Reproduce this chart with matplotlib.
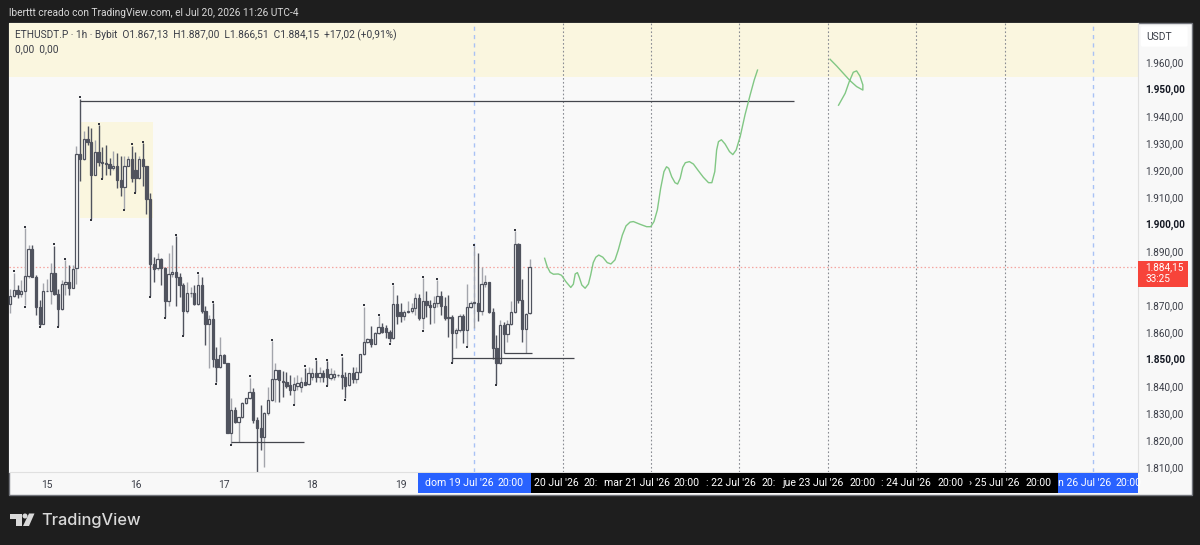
#!/usr/bin/env python3
import numpy as np
import matplotlib
matplotlib.use("Agg")
import matplotlib.pyplot as plt
from matplotlib.patches import Rectangle, Polygon, Circle, FancyBboxPatch

# ETHUSDT.P 1h candles, first bar is 14 Jul 14:00 (hours counted from 15 Jul 00:00)
first_hour = -10
opens = [
    1870.4, 1873.5, 1875.6, 1874.1, 1875.0, 1880.8, 1890.6, 1880.5, 1869.2, 1863.0,
    1875.1, 1875.3, 1881.8, 1874.1, 1868.4, 1877.8, 1878.7, 1876.4, 1883.6, 1926.0,
    1924.1, 1931.5, 1930.2, 1918.2, 1926.8, 1922.9, 1922.5, 1922.3, 1920.7, 1921.6,
    1916.3, 1913.6, 1921.5, 1924.1, 1920.0, 1917.0, 1924.1, 1921.5, 1909.2, 1885.1,
    1883.6, 1887.0, 1883.6, 1871.3, 1881.4, 1882.1, 1880.5, 1877.4, 1867.8, 1874.3,
    1874.6, 1870.4, 1877.4, 1867.6, 1863.0, 1864.7, 1849.9, 1846.9, 1851.4, 1848.7,
    1822.7, 1831.0, 1826.8, 1828.5, 1833.7, 1835.5, 1837.7, 1827.4, 1824.3, 1821.0,
    1829.9, 1834.7, 1842.6, 1845.8, 1842.0, 1841.6, 1840.4, 1838.5, 1840.0, 1839.5,
    1841.4, 1840.6, 1843.5, 1844.7, 1843.5, 1844.7, 1846.3, 1843.1, 1843.5, 1844.0,
    1844.1, 1843.5, 1840.4, 1845.0, 1842.6, 1845.1, 1851.7, 1856.2, 1857.3, 1855.6,
    1859.8, 1862.0, 1861.6, 1859.9, 1857.7, 1870.4, 1867.3, 1866.1, 1867.3, 1867.9,
    1869.0, 1872.5, 1865.1, 1871.5, 1870.0, 1869.2, 1870.6, 1873.5, 1869.8, 1865.7,
    1865.7, 1859.8, 1860.8, 1866.1, 1860.8, 1869.4, 1870.9, 1870.9, 1867.9, 1877.8,
    1878.7, 1867.5, 1854.0, 1848.4, 1862.6, 1859.3, 1862.9, 1867.5, 1892.6, 1871.9,
    1861.1, 1867.13,
]
highs = [
    1875.8, 1882.0, 1877.4, 1879.3, 1898.5, 1892.2, 1892.2, 1881.1, 1871.9, 1878.0,
    1879.5, 1885.5, 1892.0, 1875.8, 1879.3, 1886.7, 1884.8, 1884.8, 1928.9, 1946.4,
    1934.5, 1936.3, 1935.5, 1931.1, 1936.7, 1928.7, 1929.3, 1924.4, 1927.2, 1926.2,
    1925.2, 1925.0, 1925.3, 1929.0, 1926.8, 1925.0, 1929.9, 1921.5, 1911.6, 1887.9,
    1889.2, 1887.3, 1884.2, 1889.2, 1892.2, 1895.6, 1881.8, 1878.0, 1878.7, 1876.8,
    1877.4, 1881.5, 1880.5, 1869.7, 1866.3, 1870.6, 1854.6, 1858.3, 1851.8, 1848.7,
    1835.5, 1832.4, 1828.7, 1834.2, 1835.5, 1843.1, 1839.2, 1828.7, 1833.0, 1830.5,
    1839.8, 1856.7, 1848.7, 1846.0, 1845.7, 1845.3, 1844.1, 1843.5, 1844.1, 1843.5,
    1846.8, 1847.2, 1846.6, 1849.6, 1847.2, 1845.9, 1849.3, 1846.6, 1845.9, 1844.5,
    1850.9, 1845.3, 1845.0, 1847.2, 1847.2, 1851.7, 1869.4, 1857.7, 1862.2, 1860.1,
    1865.9, 1863.2, 1862.6, 1860.8, 1877.4, 1873.7, 1870.6, 1868.2, 1871.3, 1870.6,
    1874.6, 1874.1, 1879.9, 1875.0, 1871.9, 1873.4, 1879.3, 1875.0, 1872.9, 1873.7,
    1866.3, 1861.4, 1866.6, 1866.6, 1877.7, 1871.3, 1891.9, 1889.2, 1884.2, 1881.1,
    1878.7, 1868.8, 1858.9, 1864.5, 1863.8, 1864.5, 1871.3, 1897.4, 1892.9, 1879.5,
    1866.9, 1887.0,
]
lows = [
    1866.9, 1873.1, 1872.5, 1873.1, 1869.9, 1879.9, 1880.3, 1866.2, 1862.2, 1863.0,
    1875.0, 1870.4, 1873.7, 1862.2, 1868.2, 1873.7, 1873.7, 1876.2, 1877.8, 1916.0,
    1923.7, 1929.3, 1901.9, 1918.2, 1921.6, 1917.0, 1918.2, 1918.2, 1920.0, 1913.2,
    1910.2, 1905.7, 1921.3, 1915.7, 1911.8, 1916.7, 1913.9, 1903.6, 1873.4, 1878.7,
    1883.0, 1877.4, 1865.5, 1869.7, 1880.5, 1869.7, 1873.1, 1858.9, 1866.9, 1873.1,
    1870.0, 1870.0, 1866.9, 1855.2, 1846.6, 1846.9, 1841.3, 1846.6, 1848.4, 1822.5,
    1818.5, 1826.2, 1819.4, 1828.0, 1833.4, 1835.1, 1826.4, 1808.3, 1816.3, 1809.9,
    1829.3, 1834.6, 1834.2, 1834.2, 1836.1, 1839.2, 1836.7, 1833.4, 1838.5, 1837.9,
    1840.4, 1840.4, 1842.2, 1841.6, 1841.6, 1841.3, 1840.4, 1842.2, 1842.2, 1843.5,
    1838.8, 1835.4, 1840.1, 1841.0, 1841.0, 1845.0, 1851.5, 1855.8, 1854.6, 1855.6,
    1859.3, 1859.5, 1857.7, 1856.2, 1857.3, 1862.9, 1863.8, 1864.5, 1866.9, 1866.9,
    1866.3, 1864.5, 1861.0, 1865.7, 1863.0, 1863.2, 1869.4, 1866.3, 1864.5, 1858.3,
    1849.0, 1854.0, 1860.1, 1855.8, 1854.8, 1868.8, 1861.4, 1864.2, 1866.3, 1876.8,
    1867.2, 1849.9, 1840.8, 1848.2, 1852.4, 1856.4, 1862.6, 1867.2, 1870.6, 1856.4,
    1852.4, 1866.51,
]
closes = [
    1873.4, 1875.6, 1874.1, 1875.1, 1880.8, 1890.6, 1880.5, 1869.2, 1863.0, 1875.1,
    1875.3, 1881.8, 1874.1, 1868.4, 1877.8, 1878.7, 1876.4, 1883.4, 1926.0, 1924.1,
    1931.5, 1930.2, 1918.2, 1926.8, 1922.9, 1922.5, 1922.3, 1920.7, 1921.6, 1916.3,
    1913.6, 1921.5, 1924.1, 1917.2, 1917.2, 1924.1, 1921.5, 1909.2, 1885.1, 1883.4,
    1887.0, 1883.6, 1871.3, 1881.4, 1882.1, 1880.5, 1877.4, 1867.8, 1874.3, 1874.6,
    1870.4, 1877.4, 1867.6, 1863.0, 1864.7, 1849.9, 1846.9, 1851.4, 1848.7, 1822.7,
    1831.0, 1826.8, 1828.5, 1833.7, 1835.5, 1837.7, 1827.4, 1824.3, 1821.0, 1829.9,
    1834.7, 1842.6, 1845.8, 1842.2, 1841.6, 1840.1, 1838.5, 1840.8, 1841.0, 1841.4,
    1840.4, 1844.7, 1844.7, 1843.2, 1844.7, 1843.2, 1843.2, 1844.3, 1844.5, 1844.1,
    1843.5, 1840.1, 1844.7, 1842.5, 1845.1, 1851.7, 1856.2, 1857.3, 1855.6, 1859.8,
    1862.0, 1860.1, 1859.9, 1857.7, 1870.4, 1866.1, 1866.1, 1867.3, 1867.9, 1869.0,
    1872.5, 1865.1, 1871.5, 1870.0, 1869.2, 1870.6, 1873.5, 1869.8, 1865.3, 1865.3,
    1859.8, 1860.8, 1866.1, 1860.8, 1869.4, 1870.9, 1871.0, 1867.9, 1877.8, 1878.7,
    1867.5, 1854.0, 1848.4, 1862.6, 1859.3, 1862.9, 1867.5, 1892.6, 1871.9, 1861.1,
    1866.7, 1884.15,
]

# bars that carry the little swing dots
pivot_high_bars = [1, 4, 12, 15, 19, 24, 33, 36, 45, 51, 55, 65, 71, 80, 83, 86, 90,
                   96, 100, 104, 112, 116, 126, 137]
pivot_low_bars = [4, 8, 13, 22, 25, 31, 34, 38, 42, 47, 56, 60, 77, 86, 91, 103, 112,
                  120, 124, 132]

# hand drawn green path
path_hours = [135.1, 135.8, 136.6, 137.5, 138.8, 139.7, 140.9, 142.2, 142.9, 143.4,
              144.0, 144.5, 145.2, 146.1, 147.0, 147.6, 148.3, 149.0, 149.8, 150.9,
              152.1, 153.1, 154.2, 155.1, 156.2, 157.2, 158.3, 159.2, 161.0, 162.8,
              163.9, 164.8, 165.7, 166.6, 167.5, 168.2, 168.8, 169.6, 170.5, 171.2,
              171.9, 172.6, 173.3, 174.4, 175.5, 176.8, 178.2, 179.6, 180.5, 181.3,
              181.8, 182.3, 183.1, 184.1, 185.3, 186.2, 187.1, 188.2, 189.5, 190.9,
              192.0, 192.9]
path_prices = [1887.3, 1884.2, 1882.1, 1881.4, 1881.5, 1881.0, 1878.6, 1876.5, 1877.7, 1881.5,
               1882.0, 1880.3, 1877.4, 1876.2, 1877.8, 1881.1, 1885.7, 1887.7, 1888.5, 1887.7,
               1885.7, 1885.2, 1886.7, 1890.4, 1895.9, 1899.3, 1900.7, 1900.9, 1899.9, 1899.0,
               1899.0, 1900.9, 1905.2, 1913.2, 1919.4, 1921.2, 1920.6, 1917.5, 1915.3, 1914.8,
               1916.9, 1921.0, 1922.7, 1923.1, 1922.2, 1919.8, 1917.3, 1915.3, 1915.3, 1919.4,
               1927.4, 1930.5, 1931.2, 1929.6, 1926.8, 1925.7, 1927.4, 1932.4, 1940.4, 1947.8,
               1953.3, 1957.0]
loop_hours = [212.6, 214.4, 216.2, 218.0, 219.8, 221.5, 221.5, 220.7, 219.8, 218.9, 217.8,
              216.7, 214.9]
loop_prices = [1961.0, 1958.5, 1955.8, 1953.1, 1950.9, 1949.6, 1951.5, 1954.8, 1956.7, 1956.2,
               1952.7, 1948.4, 1944.0]

# horizontal drawings: price, from hour, to hour
level_prices = [1945.6, 1819.3, 1850.4, 1852.2]
level_starts = [9, 50, 110, 124]
level_ends = [202.8, 69.8, 143, 131.7]

session_hours = [116, 140, 164, 188, 212, 236, 260, 284]
session_blue = [116, 284]

last_price = 1884.15
day_ticks = [0, 24, 48, 72, 96]
day_labels = ["15", "16", "17", "18", "19"]
price_ticks = [1960, 1950, 1940, 1930, 1920, 1910, 1900, 1890, 1870, 1860, 1850, 1840,
               1830, 1820, 1810]
price_labels = ["1.960,00", "1.950,00", "1.940,00", "1.930,00", "1.920,00", "1.910,00",
                "1.900,00", "1.890,00", "1.870,00", "1.860,00", "1.850,00", "1.840,00",
                "1.830,00", "1.820,00", "1.810,00"]
bold_prices = [1950, 1900, 1850]

# labels of the future time strip, left edge in picture pixels
strip_texts = ["dom 19 Jul '26", "20:00", "20 Jul '26", "20:", "mar 21 Jul '26", "20:00",
               ": 22 Jul '26", "20:", "jue 23 Jul '26", "20:00", ": 24 Jul '26", "20:00",
               "› 25 Jul '26", "20:00", "n 26 Jul '26", "20:00"]
strip_left_px = [425, 498, 534, 584, 604, 674, 706, 762, 782, 849, 881, 937, 969, 1026,
                 1058, 1116]

DARK = "#1e1e1e"
CANDLE = "#50535e"
WICK_UP = "#a3a5ac"
YELLOW = "#faf6df"
TEXT = "#3a3d47"
FONT = "Roboto"

plt.rcParams["font.family"] = [FONT, "DejaVu Sans"]

W, H = 1200, 545
fig = plt.figure(figsize=(W / 100, H / 100), dpi=100, facecolor=DARK)

# page axes in pixels for the chrome around the chart
page = fig.add_axes([0, 0, 1, 1], zorder=0)
page.set_xlim(0, W)
page.set_ylim(H, 0)
page.axis("off")
page.add_patch(Rectangle((8.5, 22.5), 1183, 472, fc="#f8f8f8", ec="#73757c", lw=1))
page.text(9, 13, "lberttt creado con TradingView.com, el Jul 20, 2026 11:26 UTC-4",
          color="#d8d8d8", fontsize=7.25, va="center")

# TradingView mark
logo = "#d9d9d9"
page.add_patch(Polygon([(10, 513.5), (21.5, 513.5), (21.5, 526), (16, 526), (16, 518.5), (10, 518.5)],
                       fc=logo, ec="none"))
page.add_patch(Circle((25, 516), 2.5, fc=logo, ec="none"))
page.add_patch(Polygon([(29, 513.5), (34.5, 513.5), (29, 526), (23, 526)], fc=logo, ec="none"))
page.text(41, 520, "TradingView", color=logo, fontsize=11.8, fontweight="medium",
          family=["Inter", "DejaVu Sans"], va="center")

# chart axes: x in hours, y in price
left, right, top, bottom = 9, 1138, 23, 472
ax = fig.add_axes([left / W, 1 - bottom / H, (right - left) / W, (bottom - top) / H], zorder=1)
ax.set_facecolor("#f9f9f9")
ax.set_xlim(-10.32, 296.2)
ax.set_ylim(1808.15, 1974.44)

for side in ["top", "left"]:
    ax.spines[side].set_visible(False)
ax.spines["right"].set_color("#e0e0e0")
ax.spines["bottom"].set_color("#e0e0e0")

ax.axhspan(1954.6, 1974.44, color=YELLOW, lw=0, zorder=0)
ax.add_patch(Rectangle((9, 1902.3), 19.8, 35.5, fc=YELLOW, ec="none", zorder=0))

for hour in session_hours:
    if hour in session_blue:
        ax.axvline(hour, color="#a9c2f5", lw=1, ls=(0, (3, 3)), zorder=1)
    else:
        ax.axvline(hour, color="#8a8c93", lw=0.8, ls=(0, (1.5, 2)), zorder=1)

ax.axhline(last_price, color="#f5a5a0", lw=0.9, ls=(0, (1.2, 1.8)), zorder=1)

opens_a = np.array(opens)
closes_a = np.array(closes)
highs_a = np.array(highs)
lows_a = np.array(lows)
hours = first_hour + np.arange(len(opens_a))
is_up = closes_a >= opens_a

ax.vlines(hours[is_up], lows_a[is_up], highs_a[is_up], color=WICK_UP, lw=1, zorder=2)
ax.vlines(hours[~is_up], lows_a[~is_up], highs_a[~is_up], color=CANDLE, lw=1, zorder=2)
ax.bar(hours[is_up], (closes_a - opens_a)[is_up], bottom=opens_a[is_up], width=0.62,
       facecolor="#ffffff", edgecolor=CANDLE, lw=0.9, zorder=3)
ax.bar(hours[~is_up], (opens_a - closes_a)[~is_up], bottom=closes_a[~is_up], width=0.62,
       facecolor=CANDLE, edgecolor=CANDLE, lw=0.9, zorder=3)

ax.plot(hours[pivot_high_bars], highs_a[pivot_high_bars] + 0.5, ls="none", marker="s", ms=1.6,
        color="#33353d", mew=0, zorder=4)
ax.plot(hours[pivot_low_bars], lows_a[pivot_low_bars] - 0.5, ls="none", marker="s", ms=1.6,
        color="#33353d", mew=0, zorder=4)

ax.hlines(level_prices, level_starts, level_ends, color="#44464d", lw=0.9, zorder=4)
ax.plot(path_hours, path_prices, color="#81c784", lw=1.0, zorder=5)
ax.plot(loop_hours, loop_prices, color="#81c784", lw=1.0, zorder=5)

ax.set_xticks(day_ticks, day_labels, fontsize=7.4, color=TEXT)
ax.yaxis.tick_right()
ax.set_yticks(price_ticks, price_labels, fontsize=7.2, color=TEXT)
for tick, price in zip(ax.get_yticklabels(), price_ticks):
    if price in bold_prices:
        tick.set_fontweight("bold")
        tick.set_color("#131722")
ax.tick_params(axis="both", length=0)
ax.tick_params(axis="x", pad=6)
ax.tick_params(axis="y", pad=5)

# overlay on top of the chart for legend, tags and time strip
over = fig.add_axes([0, 0, 1, 1], zorder=2)
over.set_xlim(0, W)
over.set_ylim(H, 0)
over.axis("off")
over.patch.set_alpha(0)

over.text(15, 35, "ETHUSDT.P · 1h · Bybit  O1.867,13  H1.887,00  L1.866,51  C1.884,15  +17,02 (+0,91%)",
          fontsize=7.3, color=TEXT, va="center")
over.text(15, 49, "0,00  0,00", fontsize=7.3, color=TEXT, va="center")

over.add_patch(FancyBboxPatch((1142, 27.5), 44.5, 18, boxstyle="round,pad=1.2,rounding_size=2",
                              fc="#ffffff", ec="none"))
over.text(1159, 36.5, "USDT", fontsize=7.4, color=TEXT, ha="center", va="center")

over.add_patch(Rectangle((1138, 261), 49.5, 26, fc="#f7443a", ec="none"))
over.text(1145, 267.5, "1.884,15", fontsize=7.2, color="#ffffff", va="center")
over.text(1145, 279.5, "33:25", fontsize=7.2, color="#ffffff", va="center")

over.add_patch(Rectangle((418, 472.5), 112.5, 20, fc="#2962ff", ec="none"))
over.add_patch(Rectangle((530.5, 472.5), 527.5, 20, fc="#000000", ec="none"))
over.add_patch(Rectangle((1058, 472.5), 79.5, 20, fc="#2962ff", ec="none"))
strip_clip = Rectangle((418, 472.5), 719.5, 20, transform=over.transData)
for label, x_px in zip(strip_texts, strip_left_px):
    t = over.text(x_px, 483.5, label, fontsize=7.6, color="#ffffff", va="center")
    t.set_clip_path(strip_clip)

fig.savefig("out.png", dpi=100, facecolor=DARK)
